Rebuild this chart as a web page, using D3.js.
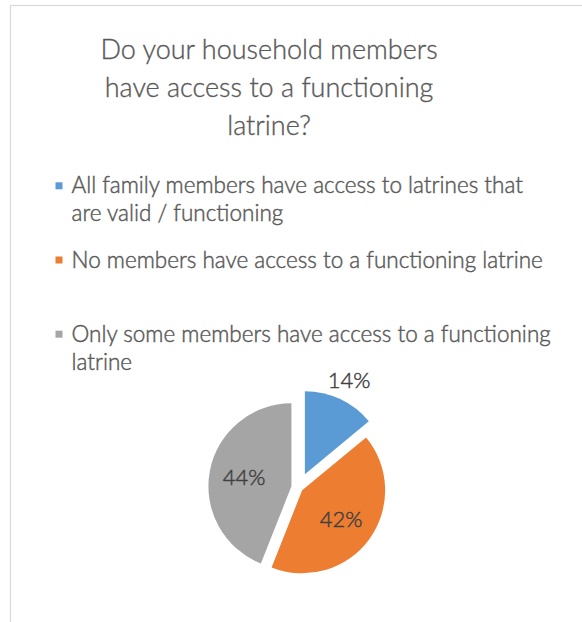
<!DOCTYPE html>
<html>
<head>
<meta charset="utf-8">
<script src="https://cdn.jsdelivr.net/npm/d3@7"></script>
<style>
  html, body { margin: 0; padding: 0; background: #fff; }
  svg { display: block; }
</style>
</head>
<body>
<svg id="chart" width="582" height="622"></svg>
<script>
// Survey answers and their shares (percent)
const categories = [
  "All family members have access to latrines that are valid / functioning",
  "No members have access to a functioning latrine",
  "Only some members have access to a functioning latrine"
];
const values = [14, 42, 44];
const colors = ["#5B9BD5", "#ED7D31", "#A5A5A5"];

// Legend text, already broken into lines as it wraps
const legendLines = [
  ["All family members have access to latrines that", "are valid / functioning"],
  ["No members have access to a functioning latrine"],
  ["Only some members have access to a functioning", "latrine"]
];
const titleLines = ["Do your household members", "have access to a functioning", "latrine?"];

// How far each slice is pulled out of the pie (px)
const explode = [15, 4.5, 7.2];

const FONT = "Lato, 'Open Sans', sans-serif";
const svg = d3.select("#chart");

// Chart frame
svg.append("rect")
  .attr("x", 10.5).attr("y", 5.5)
  .attr("width", 700).attr("height", 700)
  .attr("fill", "#fff")
  .attr("stroke", "#d9d9d9").attr("stroke-width", 1.2);

// Title
svg.append("g")
  .selectAll("text")
  .data(titleLines)
  .join("text")
  .attr("x", 269)
  .attr("y", (d, i) => 58.5 + i * 38.3)
  .attr("text-anchor", "middle")
  .attr("font-family", FONT)
  .attr("font-weight", 300)
  .attr("font-size", 27)
  .attr("fill", "#595959")
  .attr("stroke", "#595959")
  .attr("stroke-width", 0.35)
  .text(d => d);

// Legend
const legend = svg.append("g");
const item = legend.selectAll("g")
  .data(legendLines)
  .join("g")
  .attr("transform", (d, i) => `translate(0,${193.3 + i * 74.2})`);

item.append("rect")
  .attr("x", 55.5).attr("y", -11)
  .attr("width", 7).attr("height", 7)
  .attr("fill", (d, i) => colors[i]);

item.selectAll("text")
  .data(d => d)
  .join("text")
  .attr("x", 71.5)
  .attr("y", (d, j) => j * 28)
  .attr("font-family", FONT)
  .attr("font-weight", 300)
  .attr("font-size", 22.5)
  .attr("fill", "#595959")
  .attr("stroke", "#595959")
  .attr("stroke-width", 0.45)
  .text(d => d);

// Pie
const cx = 298.5, cy = 487.7, R = 83;
const pie = d3.pie().sort(null).value(d => d);
const arcs = pie(values);
const arc = d3.arc().innerRadius(0).outerRadius(R);

const g = svg.append("g").attr("transform", `translate(${cx},${cy})`);

const offset = (d, i, k) => {
  const a = (d.startAngle + d.endAngle) / 2;
  return [Math.sin(a) * k, -Math.cos(a) * k];
};

g.selectAll("path")
  .data(arcs)
  .join("path")
  .attr("d", arc)
  .attr("fill", (d, i) => colors[i])
  .attr("transform", (d, i) => {
    const [x, y] = offset(d, i, explode[i]);
    return `translate(${x},${y})`;
  });

// Data labels: small slice labelled outside, others inside
const labelRadius = d => (d.endAngle - d.startAngle) < 1 ? R * 1.25 : R * 0.58;
g.selectAll("text")
  .data(arcs)
  .join("text")
  .attr("transform", (d, i) => {
    const [ex, ey] = offset(d, i, explode[i]);
    const [lx, ly] = offset(d, i, labelRadius(d));
    return `translate(${ex + lx},${ey + ly})`;
  })
  .attr("text-anchor", "middle")
  .attr("dy", "0.36em")
  .attr("font-family", FONT)
  .attr("font-weight", 300)
  .attr("font-size", 22)
  .attr("fill", "#404040")
  .attr("stroke", "#404040")
  .attr("stroke-width", 0.45)
  .text(d => d3.format(".0f")(d.value) + "%");
</script>
</body>
</html>
